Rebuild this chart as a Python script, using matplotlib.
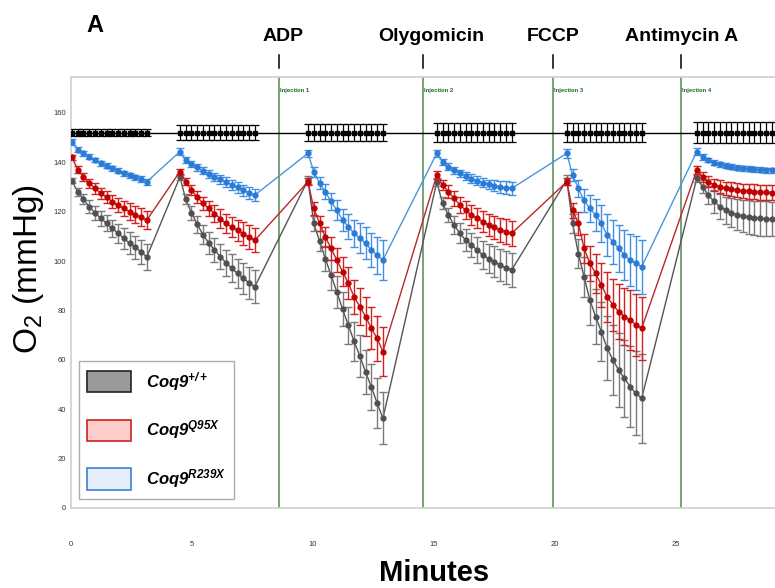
import numpy as np
import matplotlib
matplotlib.use('Agg')
import matplotlib.pyplot as plt
import matplotlib.transforms as mtransforms
from matplotlib.patches import Patch

plt.rcParams['font.family'] = ['Liberation Sans', 'DejaVu Sans']
plt.rcParams['mathtext.fontset'] = 'custom'
plt.rcParams['mathtext.it'] = 'Liberation Sans:bold:italic'
plt.rcParams['mathtext.rm'] = 'Liberation Sans:bold:italic'
plt.rcParams['mathtext.bf'] = 'Liberation Sans:bold:italic'
plt.rcParams['mathtext.sf'] = 'Liberation Sans'

# ---------------- data ----------------
cycle_starts = [0.06, 4.52, 9.81, 15.13, 20.5, 25.87]   # minutes
point_step = 0.238                                       # minutes between readings
points_per_cycle = 14

injection_times = [8.61, 14.55, 19.92, 25.2]
injection_labels = ['Injection 1', 'Injection 2', 'Injection 3', 'Injection 4']
compound_labels = ['ADP', 'Olygomicin', 'FCCP', 'Antimycin A']
compound_label_times = [8.78, 14.92, 19.92, 25.25]

ref_o2 = [
    [152.0, 152.0, 152.0, 152.0, 152.0, 152.0, 152.0, 152.0, 152.0, 152.0, 152.0, 152.0, 152.0, 152.0],
    [152.0, 152.0, 152.0, 152.0, 152.0, 152.0, 152.0, 152.0, 152.0, 152.0, 152.0, 152.0, 152.0, 152.0],
    [152.0, 152.0, 152.0, 152.0, 152.0, 152.0, 152.0, 152.0, 152.0, 152.0, 152.0, 152.0, 152.0, 152.0],
    [152.0, 152.0, 152.0, 152.0, 152.0, 152.0, 152.0, 152.0, 152.0, 152.0, 152.0, 152.0, 152.0, 152.0],
    [152.0, 152.0, 152.0, 152.0, 152.0, 152.0, 152.0, 152.0, 152.0, 152.0, 152.0, 152.0, 152.0, 152.0],
    [152.0, 152.0, 152.0, 152.0, 152.0, 152.0, 152.0, 152.0, 152.0, 152.0, 152.0, 152.0, 152.0, 152.0],
]
ref_sd = [1.5, 3.0, 3.6, 3.7, 3.7, 4.2]   # one SD per cycle

wt_o2 = [
    [132.5, 128, 125, 122, 119.5, 117.3, 115.3, 113.2, 111.2, 109.2, 107.2, 105.5, 103.7, 101.7],
    [134, 125, 119.5, 114.8, 110.7, 107.3, 104.5, 101.8, 99.2, 97, 95, 93, 91.2, 89.6],
    [132.8, 115.3, 108, 101, 94.3, 87.5, 80.5, 74, 67.5, 61.5, 55, 49, 42.5, 36.3],
    [132, 123.4, 118.6, 114.6, 111.2, 108.5, 106.5, 104.5, 102.4, 101, 99.7, 98.4, 97.3, 96.4],
    [132.8, 115.2, 103, 93.6, 84.2, 77.5, 71.4, 64.7, 59.9, 55.9, 52.5, 49.1, 46.4, 44.4],
    [133.5, 130.1, 126.7, 124.1, 122, 120.6, 119.6, 118.8, 118.2, 117.8, 117.5, 117.3, 117.1, 117],
]
wt_sd = [
    [1, 1.5, 2, 2.5, 2.8, 3, 3.3, 3.6, 3.9, 4.2, 4.5, 4.7, 5, 5.2],
    [1, 2, 2.8, 3.4, 4, 4.4, 4.8, 5.1, 5.4, 5.7, 6, 6.2, 6.4, 6.6],
    [1.5, 3, 4, 5, 6, 6.5, 7, 7.5, 8, 8.5, 9, 9.5, 10, 10.5],
    [1.5, 2.5, 3, 3.5, 4, 4.5, 5, 5.3, 5.6, 6, 6.3, 6.6, 6.8, 7],
    [2, 4, 6, 8, 10, 11, 12, 13, 14, 15, 15.5, 16.5, 17, 18],
    [1.5, 2.5, 3.5, 4.5, 5, 5.5, 6, 6.3, 6.5, 6.7, 6.8, 7, 7, 7],
]

q95x_o2 = [
    [142, 137, 134.1, 131.5, 129.4, 127.4, 125.8, 124, 122.6, 121.3, 120, 118.7, 117.7, 116.6],
    [136.2, 132.1, 128.7, 126, 123.3, 121.3, 119.2, 117.2, 115.2, 113.8, 112.4, 111.1, 109.7, 108.4],
    [132.1, 121.3, 115.3, 109.8, 105.1, 100.4, 95.7, 91, 85.5, 81.5, 77.5, 72.7, 68.7, 63.3],
    [134.8, 130.8, 128.1, 125.4, 122.7, 120.6, 118.6, 117.3, 115.9, 114.6, 113.6, 112.6, 111.9, 111.2],
    [132.1, 120.6, 115.2, 105.1, 99.1, 95, 90.3, 85.5, 82.2, 79.5, 77.5, 76.1, 74.1, 72.8],
    [136.8, 134.1, 132.1, 130.8, 130.1, 129.4, 129, 128.7, 128.4, 128.2, 128.1, 127.9, 127.8, 127.7],
]
q95x_sd = [
    [1, 1.3, 1.6, 1.9, 2.1, 2.3, 2.5, 2.7, 2.9, 3.1, 3.3, 3.5, 3.6, 3.8],
    [1, 1.5, 2, 2.4, 2.8, 3.1, 3.4, 3.7, 3.9, 4.1, 4.3, 4.5, 4.7, 4.8],
    [1.5, 2.5, 3, 4, 4.5, 5, 6, 6.5, 7, 7.5, 8, 8.5, 9, 10],
    [1.5, 2, 2.5, 3, 3.3, 3.6, 3.9, 4.1, 4.3, 4.5, 4.7, 4.8, 5, 5.1],
    [1.5, 3, 4.5, 6, 7, 8, 9, 10, 10.5, 11, 11.5, 12, 12.5, 12.8],
    [1.5, 2, 2.3, 2.5, 2.6, 2.7, 2.8, 2.8, 2.9, 2.9, 3, 3, 3, 3],
]

r239x_o2 = [
    [148.3, 145, 143.6, 142.2, 140.9, 139.5, 138.5, 137.5, 136.6, 135.5, 134.7, 133.9, 133.1, 132.1],
    [144.3, 140.9, 139.3, 137.9, 136.6, 135.2, 134.1, 133.1, 132, 130.9, 129.8, 128.7, 127.6, 126.7],
    [143.6, 136.2, 131.5, 128.1, 124.1, 120.6, 116.6, 113.9, 111.2, 109.2, 107.2, 104.5, 102.4, 100.4],
    [143.6, 140.2, 138.2, 136.8, 135.5, 134.4, 133.4, 132.5, 131.7, 131, 130.4, 129.9, 129.6, 129.4],
    [143.6, 134.8, 129.4, 124.5, 121.3, 118.6, 115.2, 110.5, 107.8, 105.1, 102.4, 100.4, 99.1, 97.7],
    [144.3, 142.2, 140.9, 139.8, 139.1, 138.6, 138.2, 137.8, 137.5, 137.3, 137.1, 137, 136.8, 136.8],
]
r239x_sd = [
    [1.2, 1, 1, 1, 1, 1, 1, 1, 1, 1, 1.1, 1.1, 1.2, 1.2],
    [1.5, 1.2, 1.3, 1.4, 1.5, 1.6, 1.7, 1.8, 1.9, 2, 2.1, 2.2, 2.3, 2.4],
    [1.5, 2, 2.5, 3, 3.5, 4, 4.5, 5, 5.5, 6, 6.5, 7, 7.5, 8],
    [1.5, 1.2, 1.3, 1.4, 1.5, 1.6, 1.7, 1.8, 1.9, 2, 2.2, 2.4, 2.6, 2.7],
    [1.8, 2.5, 3.5, 4.5, 5.5, 6.5, 7.5, 8.5, 9, 9.5, 10, 10.5, 11, 11],
    [1.5, 1.2, 1, 1, 1, 1, 1, 1, 1, 1, 1, 1, 1, 1],
]

legend_labels = [r'$Coq9^{+/+}$', r'$Coq9^{Q95X}$', r'$Coq9^{R239X}$']

# ---------------- figure ----------------
fig = plt.figure(figsize=(7.75, 5.88), dpi=100)
ax = fig.add_axes([70.5 / 775, 1 - 508 / 588, 1 - 70.5 / 775, (508 - 77) / 588])

times = np.concatenate([s + point_step * np.arange(points_per_cycle) for s in cycle_starts])


def flat(nested):
    return np.concatenate([np.asarray(c, float) for c in nested])


ref_sd_all = np.repeat(ref_sd, points_per_cycle)

# reference level (black)
ax.plot(times, flat(ref_o2), color='black', lw=1.0, zorder=2)
ax.errorbar(times, flat(ref_o2), yerr=ref_sd_all, fmt='s', ms=2.4, color='black',
            ecolor='black', elinewidth=0.9, capsize=2.6, capthick=0.9, zorder=3)

series = [
    (wt_o2, wt_sd, '#505050', '#7a7a7a', '#555555'),
    (q95x_o2, q95x_sd, '#c00000', '#d42020', '#b82828'),
    (r239x_o2, r239x_sd, '#2a7ad6', '#3f8fe6', '#4a95dd'),
]
for i, (m, s, mc, ec, lc) in enumerate(series):
    y = flat(m)
    e = flat(s)
    ax.plot(times, y, color=lc, lw=1.0, zorder=4 + i)
    ax.errorbar(times, y, yerr=e, fmt='o', ms=3.5, color=mc, ecolor=ec,
                elinewidth=1.0, capsize=2.6, capthick=1.0, zorder=4 + i)

# injection lines
trans = mtransforms.blended_transform_factory(ax.transData, ax.transAxes)
for t, lab in zip(injection_times, injection_labels):
    ax.axvline(t, color='#6f9a6f', lw=1.3, zorder=1)
    ax.text(t + 0.05, 0.975, lab, transform=trans, fontsize=4.2, color='#1d6a1d',
            fontweight='bold', ha='left', va='top')
    ax.plot([t, t], [1.021, 1.051], transform=trans, color='black', lw=1.1, clip_on=False)
for t, comp in zip(compound_label_times, compound_labels):
    ax.text(t, 1.095, comp, transform=trans, fontsize=14, fontweight='bold',
            ha='center', va='center')

ax.set_xlim(0, 29.1)
ax.set_ylim(0, 174.5)
ax.set_yticks(np.arange(0, 161, 20))
ax.set_xticks(np.arange(0, 26, 5))
ax.tick_params(axis='both', length=0, labelsize=5.5, labelcolor='#333333')
ax.tick_params(axis='x', pad=24)
ax.tick_params(axis='y', pad=3)
for sp in ['left', 'bottom', 'top']:
    ax.spines[sp].set_color('#cfcfcf')
    ax.spines[sp].set_linewidth(1.2)
ax.spines['right'].set_visible(False)

# legend
handles = [
    Patch(facecolor='#9a9a9a', edgecolor='#222222', lw=1.2),
    Patch(facecolor='#ffcccc', edgecolor='#d02020', lw=1.2),
    Patch(facecolor='#e4effb', edgecolor='#3a80d8', lw=1.2),
]
leg = ax.legend(handles, legend_labels, loc='lower left',
                bbox_to_anchor=(0.012, 0.022), fontsize=12, frameon=True,
                fancybox=False, edgecolor='#999999', handlelength=2.6,
                handleheight=1.6, labelspacing=1.55, borderpad=0.5,
                handletextpad=0.9, borderaxespad=0)
leg.get_frame().set_linewidth(1.0)

# labels
fig.text(28 / 775, 1 - 269 / 588, r'O$_\mathsf{2}$ (mmHg)', rotation=90, fontsize=24,
         ha='center', va='center')
fig.text(434 / 775, 1 - 573 / 588, 'Minutes', fontsize=21, fontweight='bold',
         ha='center', va='center')
fig.text(95 / 775, 1 - 25 / 588, 'A', fontsize=17, fontweight='bold',
         ha='center', va='center')

fig.savefig('out.png', dpi=100)
